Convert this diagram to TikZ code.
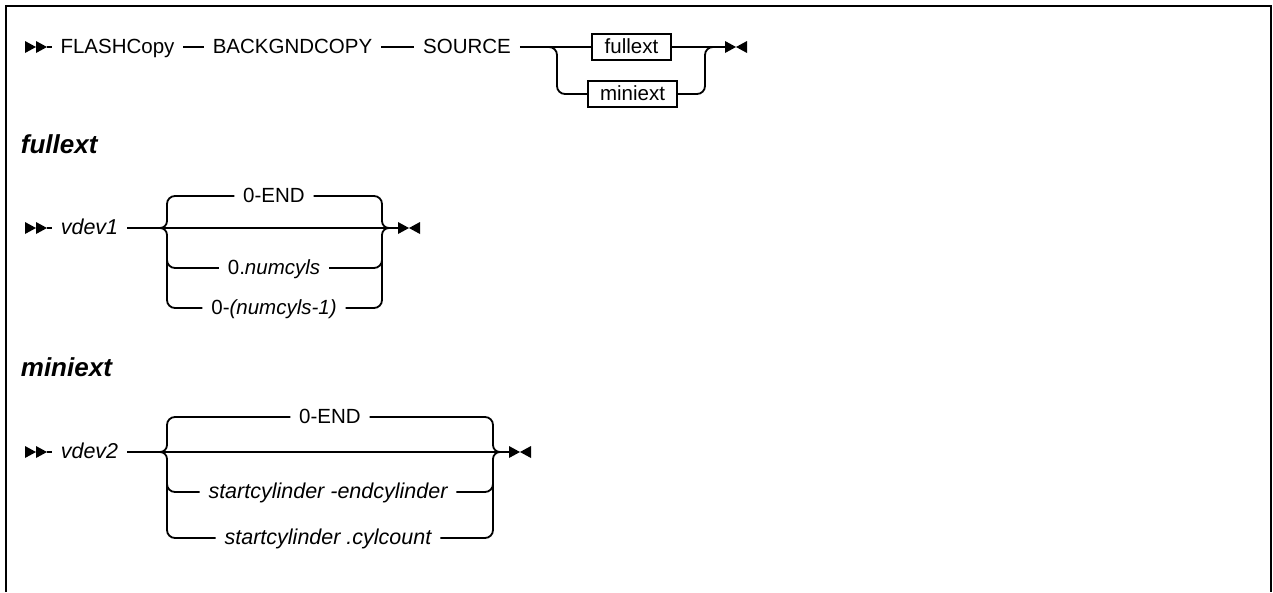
\documentclass[tikz,border=0pt]{standalone}
\usepackage{fontspec}
\setmainfont{Liberation Sans}
\begin{document}
\begin{tikzpicture}[x=1pt,y=-1pt,line width=1.8pt,
  txt/.style={inner xsep=8pt,inner ysep=0pt,text height=15pt,text depth=3pt,font=\fontsize{20.5}{24}\selectfont},
  itx/.style={txt,font=\fontsize{21.5}{25}\selectfont\itshape},
  boxed/.style={draw,line width=1.6pt,inner xsep=4pt,inner ysep=4pt,text height=15pt,text depth=3pt,minimum height=26pt,font=\fontsize{20.5}{24}\selectfont},
  hd/.style={anchor=base west,inner sep=0pt,font=\fontsize{26}{30}\selectfont\bfseries\itshape},
  rr/.style={rounded corners=8pt},
  startmk/.pic={\fill (0,-6)--(11,0)--(0,6)--cycle (11,-6)--(22,0)--(11,6)--cycle;},
  endmk/.pic={\fill (0,-6)--(11,0)--(0,6)--cycle (22,-6)--(11,0)--(22,6)--cycle;}]
\useasboundingbox (0,0) rectangle (1273,592);
\draw[line width=2pt] (6,592) -- (6,6) -- (1271,6) -- (1271,592);

% ---------- row 1
\coordinate (s1) at (25,47);
\pic at (s1) {startmk};
\coordinate (s1e) at (47,47);
\node[txt] (flash) at (117.5,47) {FLASHCopy};
\node[txt] (back) at (292.5,47) {BACKGNDCOPY};
\node[txt] (source) at (467,47) {SOURCE};
\node[boxed,minimum width=79pt] (fullbox) at (631.5,47) {fullext};
\node[boxed,minimum width=89pt] (minibox) at (632.5,94) {miniext};
\coordinate (j1) at (546,47);
\coordinate (e1) at (725,47);
\draw (s1e) -- (flash.west);
\draw (flash.east) -- (back.west);
\draw (back.east) -- (source.west);
\draw (source.east) -- (fullbox.west);
\draw[rr] (j1) -| (557,94) -- (minibox.west);
\draw (fullbox.east) -- (e1);
\draw[rr] (minibox.east) -| (705,47) -- (716,47);
\pic at (e1) {endmk};

% ---------- fullext
\node[hd] (hfull) at (20,153) {fullext};
\coordinate (s2) at (25,228);
\pic at (s2) {startmk};
\coordinate (s2e) at (47,228);
\node[itx] (vdev1) at (89.5,228) {vdev1};
\node[txt] (fend) at (274,196) {0-END};
\node[txt] (fnum) at (274,268) {0.\textit{numcyls}};
\node[txt] (fnm1) at (274,308) {0-\textit{(numcyls-1)}};
\coordinate (e2) at (398,228);
\draw (s2e) -- (vdev1.west);
\draw (vdev1.east) -- (e2);
% left fork
\draw[rr] (fend.west) -| (167,221);
\draw (167,221) to[out=-90,in=0] (160,228);
\draw (160,228) to[out=0,in=90] (167,235);
\draw[rr] (167,235) |- (fnm1.west);
\draw[rr] (167,245) |- (fnum.west);
% right fork
\draw[rr] (fend.east) -| (382,221);
\draw (382,221) to[out=-90,in=180] (389,228);
\draw (389,228) to[out=180,in=90] (382,235);
\draw[rr] (382,235) |- (fnm1.east);
\draw[rr] (382,245) |- (fnum.east);
\pic at (e2) {endmk};

% ---------- miniext
\node[hd] (hmini) at (20,376) {miniext};
\coordinate (s3) at (25,452);
\pic at (s3) {startmk};
\coordinate (s3e) at (47,452);
\node[itx] (vdev2) at (89.5,452) {vdev2};
\node[txt] (mend) at (330,417) {0-END};
\node[itx] (mecyl) at (328,492) {startcylinder -endcylinder};
\node[itx] (mccnt) at (328,538) {startcylinder .cylcount};
\coordinate (e3) at (509,452);
\draw (s3e) -- (vdev2.west);
\draw (vdev2.east) -- (e3);
% left fork
\draw[rr] (mend.west) -| (167,445);
\draw (167,445) to[out=-90,in=0] (160,452);
\draw (160,452) to[out=0,in=90] (167,459);
\draw[rr] (167,459) |- (mccnt.west);
\draw[rr] (167,470) |- (mecyl.west);
% right fork
\draw[rr] (mend.east) -| (493,445);
\draw (493,445) to[out=-90,in=180] (500,452);
\draw (500,452) to[out=180,in=90] (493,459);
\draw[rr] (493,459) |- (mccnt.east);
\draw[rr] (493,470) |- (mecyl.east);
\pic at (e3) {endmk};
\end{tikzpicture}
\end{document}
